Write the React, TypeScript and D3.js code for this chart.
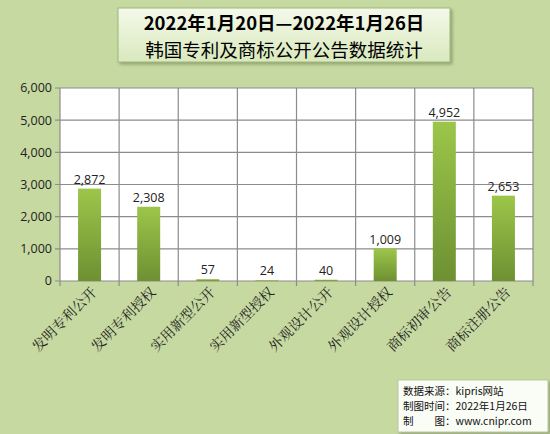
import * as d3 from "d3";

const categories = [
  "发明专利公开",
  "发明专利授权",
  "实用新型公开",
  "实用新型授权",
  "外观设计公开",
  "外观设计授权",
  "商标初审公告",
  "商标注册公告",
];
const counts = [2872, 2308, 57, 24, 40, 1009, 4952, 2653];
const yTicks = [0, 1000, 2000, 3000, 4000, 5000, 6000];
const titleLines = ["2022年1月20日—2022年1月26日", "韩国专利及商标公开公告数据统计"];
const noteLines = ["数据来源：kipris网站", "制图时间：2022年1月26日", "制　　图：www.cnipr.com"];

const W = 550;
const H = 434;
const plot = { left: 60, right: 533, top: 88, bottom: 281 };

export default function App() {
  const x = d3
    .scaleBand<string>()
    .domain(categories)
    .range([plot.left, plot.right])
    .paddingInner(0)
    .paddingOuter(0);
  const y = d3.scaleLinear().domain([0, 6000]).range([plot.bottom, plot.top]);
  const fmt = d3.format(",");
  const barW = 23;

  return (
    <svg
      width={W}
      height={H}
      style={{ position: "absolute", left: 0, top: 0 }}
      fontFamily="'Noto Sans CJK SC', sans-serif"
    >
      <defs>
        <linearGradient id="barGrad" x1="0" y1="0" x2="0" y2="1">
          <stop offset="0%" stopColor="#9cc64a" />
          <stop offset="100%" stopColor="#6e9032" />
        </linearGradient>
        <linearGradient id="titleGrad" x1="0" y1="0" x2="0" y2="1">
          <stop offset="0%" stopColor="#f4f9ea" />
          <stop offset="100%" stopColor="#d9e9bd" />
        </linearGradient>
        <filter id="shadow" x="-10%" y="-10%" width="130%" height="140%">
          <feDropShadow dx="2" dy="2" stdDeviation="1.5" floodColor="#6f7f55" floodOpacity="0.6" />
        </filter>
      </defs>
      <rect x={0} y={0} width={W} height={H} fill="#c6d9a1" />

      {/* title box */}
      <rect
        x={118}
        y={8}
        width={332}
        height={54}
        fill="url(#titleGrad)"
        stroke="#9fb87a"
        strokeWidth={1}
        filter="url(#shadow)"
      />
      <text
        x={284}
        y={30}
        textAnchor="middle"
        fontSize={18.5}
        fontWeight="bold"
        fill="#000"
        fontFamily="'Noto Sans CJK SC', 'Liberation Sans', sans-serif"
      >
        {titleLines[0]}
      </text>
      <text x={284} y={57} textAnchor="middle" fontSize={18.5} fill="#000">
        {titleLines[1]}
      </text>

      {/* plot area */}
      <rect
        x={plot.left}
        y={plot.top}
        width={plot.right - plot.left}
        height={plot.bottom - plot.top}
        fill="#fff"
      />
      {yTicks.map((t) => (
        <line
          key={"h" + t}
          x1={plot.left - 5}
          x2={plot.right}
          y1={y(t)}
          y2={y(t)}
          stroke="#8c8c8c"
          strokeWidth={1.2}
        />
      ))}
      {categories.map((c) => (
        <line
          key={"v" + c}
          x1={(x(c) ?? 0) + x.bandwidth()}
          x2={(x(c) ?? 0) + x.bandwidth()}
          y1={plot.top}
          y2={plot.bottom + 5}
          stroke="#8c8c8c"
          strokeWidth={1.2}
        />
      ))}
      <line x1={plot.left} x2={plot.left} y1={plot.top} y2={plot.bottom + 5} stroke="#8c8c8c" strokeWidth={1.2} />

      {yTicks.map((t) => (
        <text
          key={"yt" + t}
          x={plot.left - 8}
          y={y(t)}
          dy="0.35em"
          textAnchor="end"
          fontSize={12.5}
          fontFamily="'Open Sans', 'Liberation Sans', sans-serif"
          fill="#222"
        >
          {fmt(t)}
        </text>
      ))}

      {/* bars */}
      {categories.map((c, i) => {
        const cx = (x(c) ?? 0) + x.bandwidth() / 2;
        return (
          <g key={"b" + c}>
            <rect
              x={cx - barW / 2}
              y={y(counts[i])}
              width={barW}
              height={plot.bottom - y(counts[i])}
              fill="url(#barGrad)"
            />
            <text
              x={cx}
              y={y(counts[i]) - 5}
              textAnchor="middle"
              fontSize={12.5}
              fontFamily="'Open Sans', 'Liberation Sans', sans-serif"
              fill="#222"
            >
              {fmt(counts[i])}
            </text>
          </g>
        );
      })}

      {/* category labels */}
      {categories.map((c) => {
        const cx = (x(c) ?? 0) + x.bandwidth() / 2 + 8;
        const ly = plot.bottom + 12;
        return (
          <text
            key={"xl" + c}
            x={cx}
            y={ly}
            textAnchor="end"
            fontSize={14}
            fill="#222"
            fontFamily="'Noto Serif CJK SC', 'Noto Sans CJK SC', serif"
            transform={`rotate(-45 ${cx} ${ly})`}
          >
            {c}
          </text>
        );
      })}

      {/* note box */}
      <rect x={398} y={380} width={150} height={52} fill="#fafcf6" stroke="#b9c9a0" filter="url(#shadow)" />
      {noteLines.map((l, i) => (
        <text
          key={"n" + i}
          x={403}
          y={395 + i * 15}
          fontSize={10.5}
          fill="#111"
          fontFamily="'Noto Sans CJK SC', 'DejaVu Sans Mono', monospace"
        >
          {l}
        </text>
      ))}
    </svg>
  );
}
